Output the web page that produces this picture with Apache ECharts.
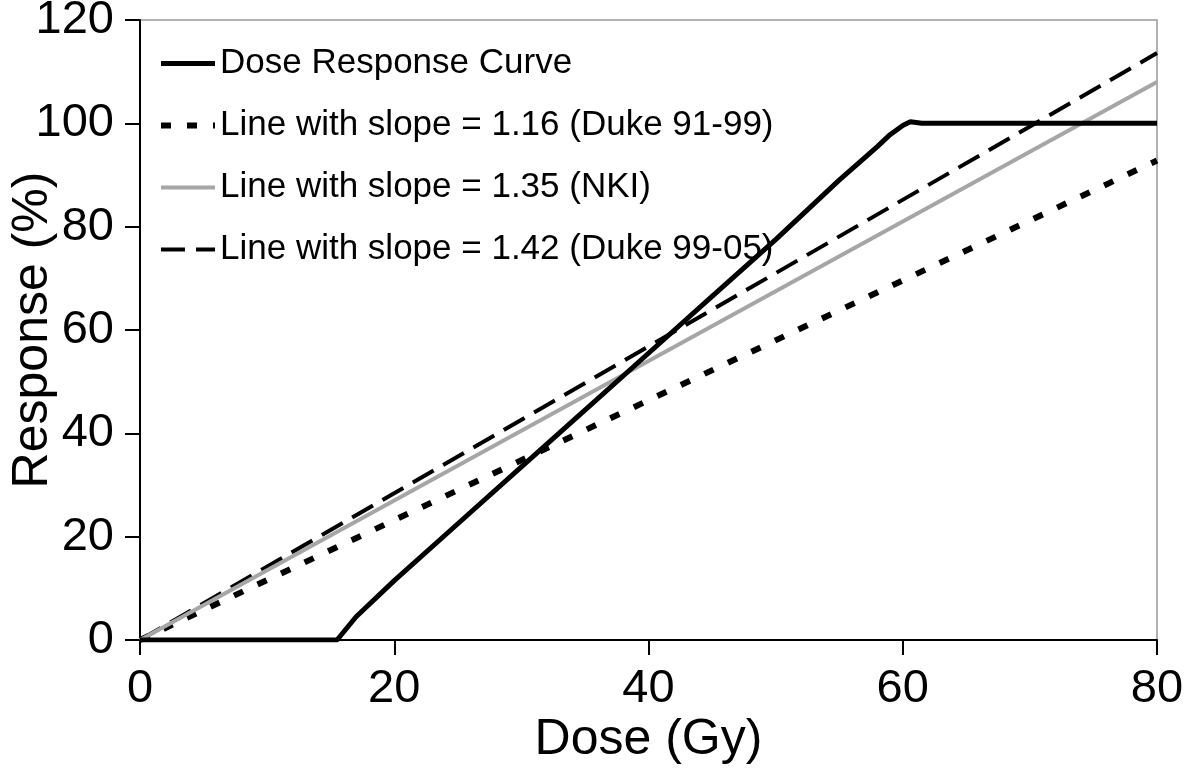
<!DOCTYPE html>
<html>
<head>
<meta charset="utf-8">
<script src="https://cdn.jsdelivr.net/npm/echarts@6/dist/echarts.min.js"></script>
<style>
html,body{margin:0;padding:0;background:#fff;}
#chart{width:1199px;height:778px;}
</style>
</head>
<body>
<div id="chart"></div>
<script>
// Dose response curve
const curveDose = [0, 15.5, 16, 17, 20, 25, 30, 35, 40, 45, 50, 55, 58, 59, 60, 60.6, 61.5, 80];
const curveResp = [0, 0, 1.5, 4.5, 11.5, 22.5, 33.5, 44.5, 55.5, 66.5, 77.5, 89, 95.5, 97.8, 99.6, 100.3, 100, 100];
// Straight reference lines
const lineDose = [0, 40, 80];
const duke9199 = [0, 46.4, 92.8];
const nki = [0, 54, 108];
const duke9905 = [0, 56.8, 113.6];
const seriesNames = [
  'Dose Response Curve',
  'Line with slope = 1.16 (Duke 91-99)',
  'Line with slope = 1.35 (NKI)',
  'Line with slope = 1.42 (Duke 99-05)'
];
const xTicks = {min: 0, max: 80, interval: 20};
const yTicks = {min: 0, max: 120, interval: 20};
const xTitle = 'Dose (Gy)';
const yTitle = 'Response (%)';

function pairs(xs, ys) { return xs.map((x, i) => [x, ys[i]]); }

const FONT = '"Liberation Sans", Arial, sans-serif';
const styles = [
  {color: '#000', width: 5, type: 'solid'},
  {color: '#000', width: 6, type: [10, 16]},
  {color: '#a6a6a6', width: 4, type: 'solid'},
  {color: '#000', width: 4, type: [24, 11]}
];
const chart = echarts.init(document.getElementById('chart'), null, {renderer: 'canvas'});
chart.setOption({
  backgroundColor: '#fff',
  animation: false,
  grid: {left: 140, right: 42, top: 20, bottom: 138, containLabel: false, outerBoundsMode: 'none',
         show: true, borderColor: '#999', borderWidth: 1.5, backgroundColor: 'transparent'},
  legend: {
    orient: 'vertical', left: 153, top: 41,
    itemWidth: 54, itemHeight: 14, itemGap: 27,
    itemStyle: {opacity: 0},
    data: seriesNames.map((n, i) => ({name: n, lineStyle: {color: styles[i].color, width: styles[i].width, type: styles[i].type}})),
    textStyle: {fontSize: 35, lineHeight: 34, color: '#000', fontFamily: FONT}
  },
  xAxis: {
    type: 'value', min: xTicks.min, max: xTicks.max, interval: xTicks.interval,
    name: xTitle, nameLocation: 'middle', nameGap: 75, nameMoveOverlap: false,
    nameTextStyle: {fontSize: 50, color: '#000', fontFamily: FONT},
    axisLine: {show: true, onZero: false, lineStyle: {color: '#000', width: 2}},
    axisTick: {show: true, length: 15, inside: false, lineStyle: {color: '#000', width: 2}},
    axisLabel: {fontSize: 47, color: '#000', fontFamily: FONT, margin: 26},
    splitLine: {show: false}
  },
  yAxis: {
    type: 'value', min: yTicks.min, max: yTicks.max, interval: yTicks.interval,
    name: yTitle, nameLocation: 'middle', nameGap: 82, nameRotate: 90, nameMoveOverlap: false,
    nameTextStyle: {fontSize: 50, color: '#000', fontFamily: FONT},
    axisLine: {show: true, onZero: false, lineStyle: {color: '#000', width: 2}},
    axisTick: {show: true, length: 15, inside: false, lineStyle: {color: '#000', width: 2}},
    axisLabel: {fontSize: 47, color: '#000', fontFamily: FONT, margin: 26},
    splitLine: {show: false}
  },
  series: [
    {name: seriesNames[0], type: 'line', data: pairs(curveDose, curveResp), symbol: 'none',
     lineStyle: styles[0], itemStyle: {color: styles[0].color}, z: 5},
    {name: seriesNames[1], type: 'line', data: pairs(lineDose, duke9199), symbol: 'none',
     lineStyle: styles[1], itemStyle: {color: styles[1].color}, z: 3},
    {name: seriesNames[2], type: 'line', data: pairs(lineDose, nki), symbol: 'none',
     lineStyle: styles[2], itemStyle: {color: styles[2].color}, z: 4},
    {name: seriesNames[3], type: 'line', data: pairs(lineDose, duke9905), symbol: 'none',
     lineStyle: styles[3], itemStyle: {color: styles[3].color}, z: 3}
  ]
});
</script>
</body>
</html>
